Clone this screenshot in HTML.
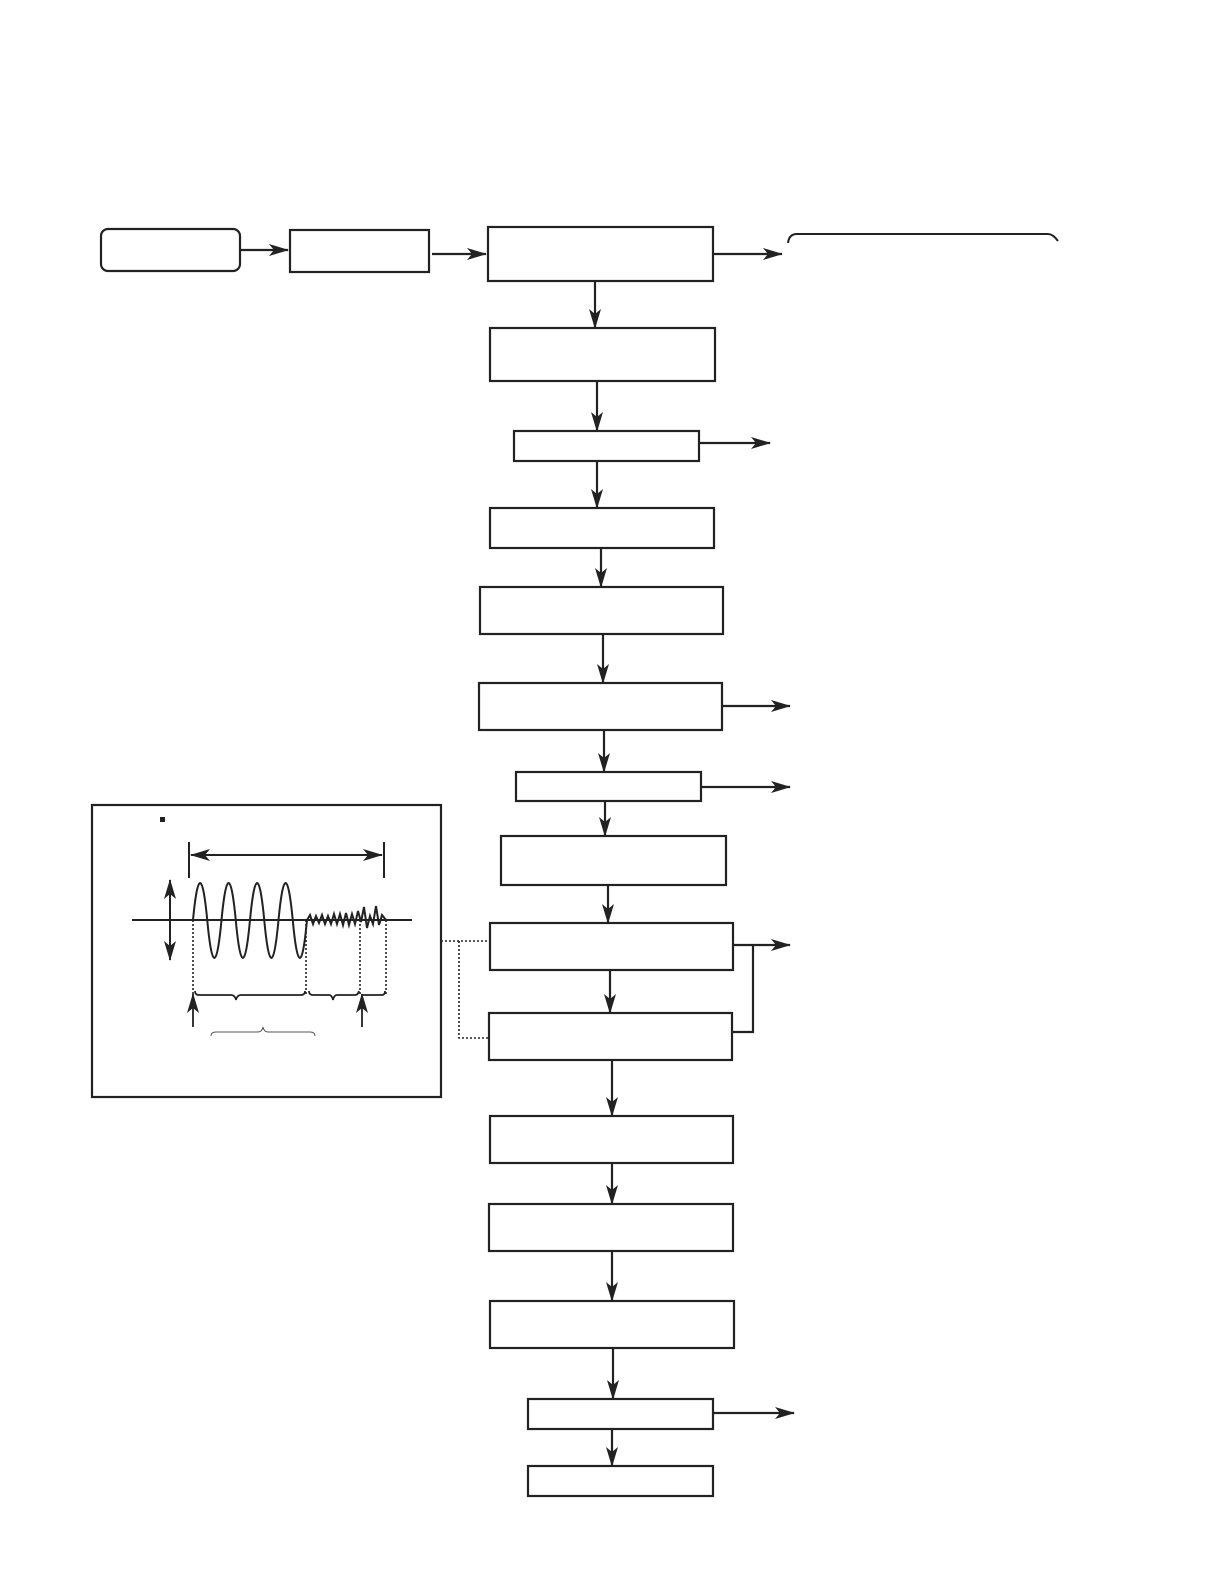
<!DOCTYPE html>
<html><head><meta charset="utf-8"><style>html,body{margin:0;padding:0;background:#fff}svg{display:block}</style></head>
<body>
<svg width="1224" height="1584" viewBox="0 0 1224 1584" xmlns="http://www.w3.org/2000/svg">
<defs>
<marker id="ar" viewBox="0 0 20 12" refX="19" refY="6" markerWidth="20" markerHeight="12" markerUnits="userSpaceOnUse" orient="auto-start-reverse">
<path d="M0 0 L20 6 L0 12 L5 6 Z" fill="#222"/>
</marker>
</defs>
<g fill="none" stroke="#222" stroke-width="2.2">
<rect x="101" y="229" width="139" height="42" rx="7"/>
<rect x="290" y="230" width="139" height="42"/>
<rect x="488" y="227" width="225" height="54"/>
<rect x="490" y="328" width="225" height="53"/>
<rect x="514" y="431" width="185" height="30"/>
<rect x="490" y="508" width="224" height="40"/>
<rect x="480" y="587" width="243" height="47"/>
<rect x="479" y="683" width="243" height="47"/>
<rect x="516" y="772" width="185" height="29"/>
<rect x="501" y="836" width="225" height="49"/>
<rect x="490" y="923" width="243" height="47"/>
<rect x="489" y="1013" width="243" height="47"/>
<rect x="490" y="1116" width="243" height="47"/>
<rect x="489" y="1204" width="244" height="47"/>
<rect x="490" y="1301" width="244" height="47"/>
<rect x="528" y="1399" width="185" height="30"/>
<rect x="528" y="1466" width="185" height="30"/>
<rect x="92" y="805" width="349" height="292"/>
</g>
<g stroke="#222" stroke-width="2.2" fill="none" marker-end="url(#ar)">
<line x1="240" y1="250" x2="288" y2="250"/>
<line x1="432" y1="254" x2="486" y2="254"/>
<line x1="713" y1="254" x2="782" y2="254"/>
<line x1="699" y1="443" x2="770" y2="443"/>
<line x1="722" y1="706" x2="790" y2="706"/>
<line x1="701" y1="787" x2="790" y2="787"/>
<line x1="733" y1="945" x2="790" y2="945"/>
<line x1="712" y1="1413" x2="794" y2="1413"/>
<line x1="595" y1="281" x2="595" y2="328"/>
<line x1="597" y1="381" x2="597" y2="431"/>
<line x1="597" y1="461" x2="597" y2="508"/>
<line x1="601" y1="548" x2="601" y2="587"/>
<line x1="603" y1="634" x2="603" y2="683"/>
<line x1="604" y1="730" x2="604" y2="772"/>
<line x1="605" y1="801" x2="605" y2="836"/>
<line x1="608" y1="885" x2="608" y2="923"/>
<line x1="610" y1="970" x2="610" y2="1013"/>
<line x1="612" y1="1060" x2="612" y2="1116"/>
<line x1="612" y1="1163" x2="612" y2="1204"/>
<line x1="612" y1="1251" x2="612" y2="1301"/>
<line x1="613" y1="1348" x2="613" y2="1399"/>
<line x1="612" y1="1429" x2="612" y2="1466"/>
</g>
<polyline points="732,1032 753,1032 753,945" fill="none" stroke="#222" stroke-width="2.2"/>
<path d="M788 243 Q789 234 797 234 L1048 234 Q1053 234 1058 241" fill="none" stroke="#222" stroke-width="2"/>
<g stroke="#222" stroke-width="1.6" stroke-dasharray="2,2" fill="none">
<line x1="441" y1="941" x2="489" y2="941"/>
<polyline points="459,941 459,1038 489,1038"/>
</g>
<!-- inset -->
<rect x="160" y="817" width="5" height="5" fill="#222"/>
<g stroke="#222" stroke-width="2" fill="none">
<line x1="189" y1="842" x2="189" y2="878"/>
<line x1="384" y1="842" x2="384" y2="878"/>
<line x1="191" y1="855" x2="382" y2="855" marker-start="url(#ar)" marker-end="url(#ar)"/>
<line x1="170" y1="880" x2="170" y2="960" marker-start="url(#ar)" marker-end="url(#ar)"/>
<line x1="132" y1="920" x2="412" y2="920"/>
<path d="M193 920 q7.1 -74 14.25 0 q7.1 76 14.25 0 q7.1 -74 14.25 0 q7.1 76 14.25 0 q7.1 -74 14.25 0 q7.1 76 14.25 0 q7.1 -74 14.25 0 q7.1 76 14.25 0"/>
<polyline points="307,920 310,915 313,924 316,916 319,923 322,915 325,924 328,916 331,924 334,914 337,924 340,914 343,925 346,913 349,925 352,914 355,924 358,911 361,922 364,907 367,928 370,916 373,924 376,906 379,925 382,915 386,920"/>
</g>
<g stroke="#222" stroke-width="1.6" stroke-dasharray="2,2" fill="none">
<line x1="193" y1="920" x2="193" y2="995"/>
<line x1="306" y1="920" x2="306" y2="995"/>
<line x1="360" y1="920" x2="360" y2="995"/>
<line x1="386" y1="920" x2="386" y2="995"/>
</g>
<g stroke="#222" stroke-width="1.8" fill="none">
<path d="M195 991 q0 4 4 4 l32 0 q4 0 5 5 q1 -5 5 -5 l60 0 q4 0 4 -4"/>
<path d="M309 991 q0 4 4 4 l16 0 q3 0 4 5 q1 -5 4 -5 l18 0 q3 0 4 -4"/>
<path d="M362 995 l20 0 q3 0 3 -4"/>
<line x1="193" y1="1027" x2="193" y2="994" marker-end="url(#ar)"/>
<line x1="362" y1="1027" x2="362" y2="994" marker-end="url(#ar)"/>
</g>
<path d="M211 1036 q0 -4 5 -4 l42 0 q4 0 5 -5 q1 5 5 5 l42 0 q5 0 5 4" fill="none" stroke="#555" stroke-width="1"/>
</svg>
</body></html>
